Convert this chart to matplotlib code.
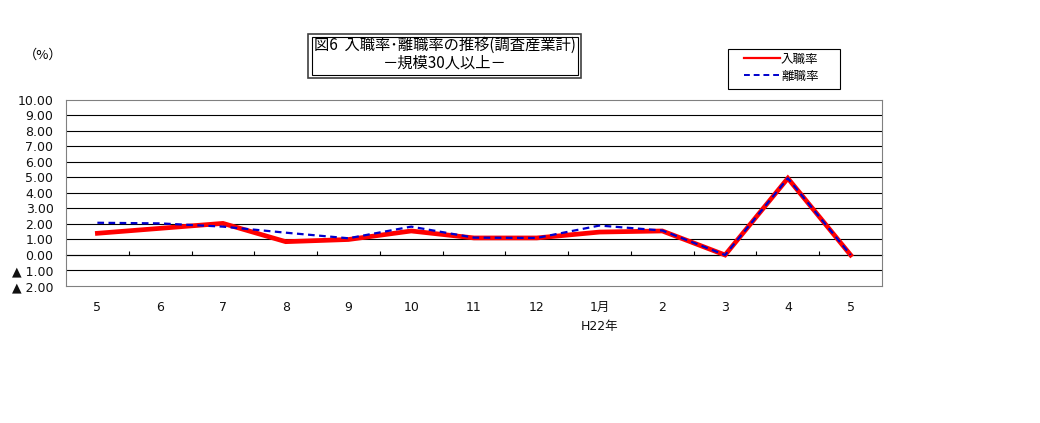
import numpy as np
import matplotlib.pyplot as plt
from matplotlib.patches import Rectangle
from matplotlib.lines import Line2D

plt.rcParams['font.family'] = ['Noto Sans CJK JP', 'DejaVu Sans']
num_font = ['DejaVu Sans', 'Noto Sans CJK JP']

months = ['5', '6', '7', '8', '9', '10', '11', '12', '1月\nH22年', '2', '3', '4', '5']
nyushoku = [1.40, 1.72, 2.04, 0.86, 1.00, 1.55, 1.10, 1.10, 1.48, 1.55, 0.00, 4.95, 0.00]
rishoku = [2.08, 2.04, 1.83, 1.44, 1.08, 1.83, 1.12, 1.10, 1.90, 1.58, 0.00, 4.95, 0.00]
yticks = [10, 9, 8, 7, 6, 5, 4, 3, 2, 1, 0, -1, -2]
ylabels = ['10.00', '9.00', '8.00', '7.00', '6.00', '5.00', '4.00', '3.00', '2.00',
           '1.00', '0.00', '▲ 1.00', '▲ 2.00']

W, H = 1040, 423
fig = plt.figure(figsize=(W / 100, H / 100), dpi=100)
ax = fig.add_axes([66 / W, 1 - 286 / H, (882 - 66) / W, (286 - 100) / H])

x = np.arange(len(months))
ax.plot(x, nyushoku, color='#ff0000', lw=3.4, solid_joinstyle='miter', label='入職率', zorder=3)
ax.plot(x, rishoku, color='#0000cc', lw=1.6, ls=(0, (3, 2)), label='離職率', zorder=4)

ax.set_xlim(-0.5, len(months) - 0.5)
ax.set_ylim(-2, 10)
ax.set_yticks(yticks)
ax.set_yticklabels(ylabels, family=num_font, fontsize=9, color='#111111')
ax.tick_params(axis='y', length=0, pad=9)
ax.set_xticks(x)
ax.set_xticklabels(months, family=num_font, fontsize=9, linespacing=1.6, color='#111111')
ax.tick_params(axis='x', length=0, pad=11)

for v in yticks[1:-1]:
    ax.axhline(v, color='black', lw=0.8, zorder=1)
for s in ax.spines.values():
    s.set_color('#808080')
    s.set_linewidth(0.8)

# category-boundary ticks on the zero line
sec = ax.secondary_xaxis(2 / 12)
sec.set_xticks(x[:-1] + 0.5)
sec.tick_params(axis='x', direction='in', length=3, labelbottom=False, color='black')
sec.spines['bottom'].set_color('black')
sec.spines['bottom'].set_linewidth(0.8)

# title box with shadow
fig.patches.append(Rectangle((308 / W, 1 - 78 / H), 273 / W, 44 / H, transform=fig.transFigure,
                             fill=False, ec='#404040', lw=1.2))
fig.patches.append(Rectangle((312 / W, 1 - 75 / H), 266 / W, 38 / H, transform=fig.transFigure,
                             fill=False, ec='black', lw=0.8))
fig.text(445 / W, 1 - 45 / H, '図6  入職率･離職率の推移(調査産業計)', ha='center', va='center', fontsize=11)
fig.text(445 / W, 1 - 63 / H, '－規模30人以上－', ha='center', va='center', fontsize=11)

fig.text(43 / W, 1 - 55 / H, '（%）', ha='center', va='center', fontsize=9.5)

# legend: frame drawn separately so the entries can sit indented like the original
fig.patches.append(Rectangle((728 / W, 1 - 89 / H), 112 / W, 40 / H, transform=fig.transFigure,
                             fill=False, ec='black', lw=0.8))
handles = [Line2D([], [], color='#ff0000', lw=1.6),
           Line2D([], [], color='#0000cc', lw=1.4, ls=(0, (3, 2)))]
leg = fig.legend(handles, ['入職率', '離職率'], loc='upper left',
                 bbox_to_anchor=(741 / W, 1 - 50 / H), fontsize=9, frameon=False,
                 handlelength=2.9, handletextpad=0.1,
                 borderpad=0.2, labelspacing=0.35, borderaxespad=0)

fig.savefig('out.png', dpi=100)
